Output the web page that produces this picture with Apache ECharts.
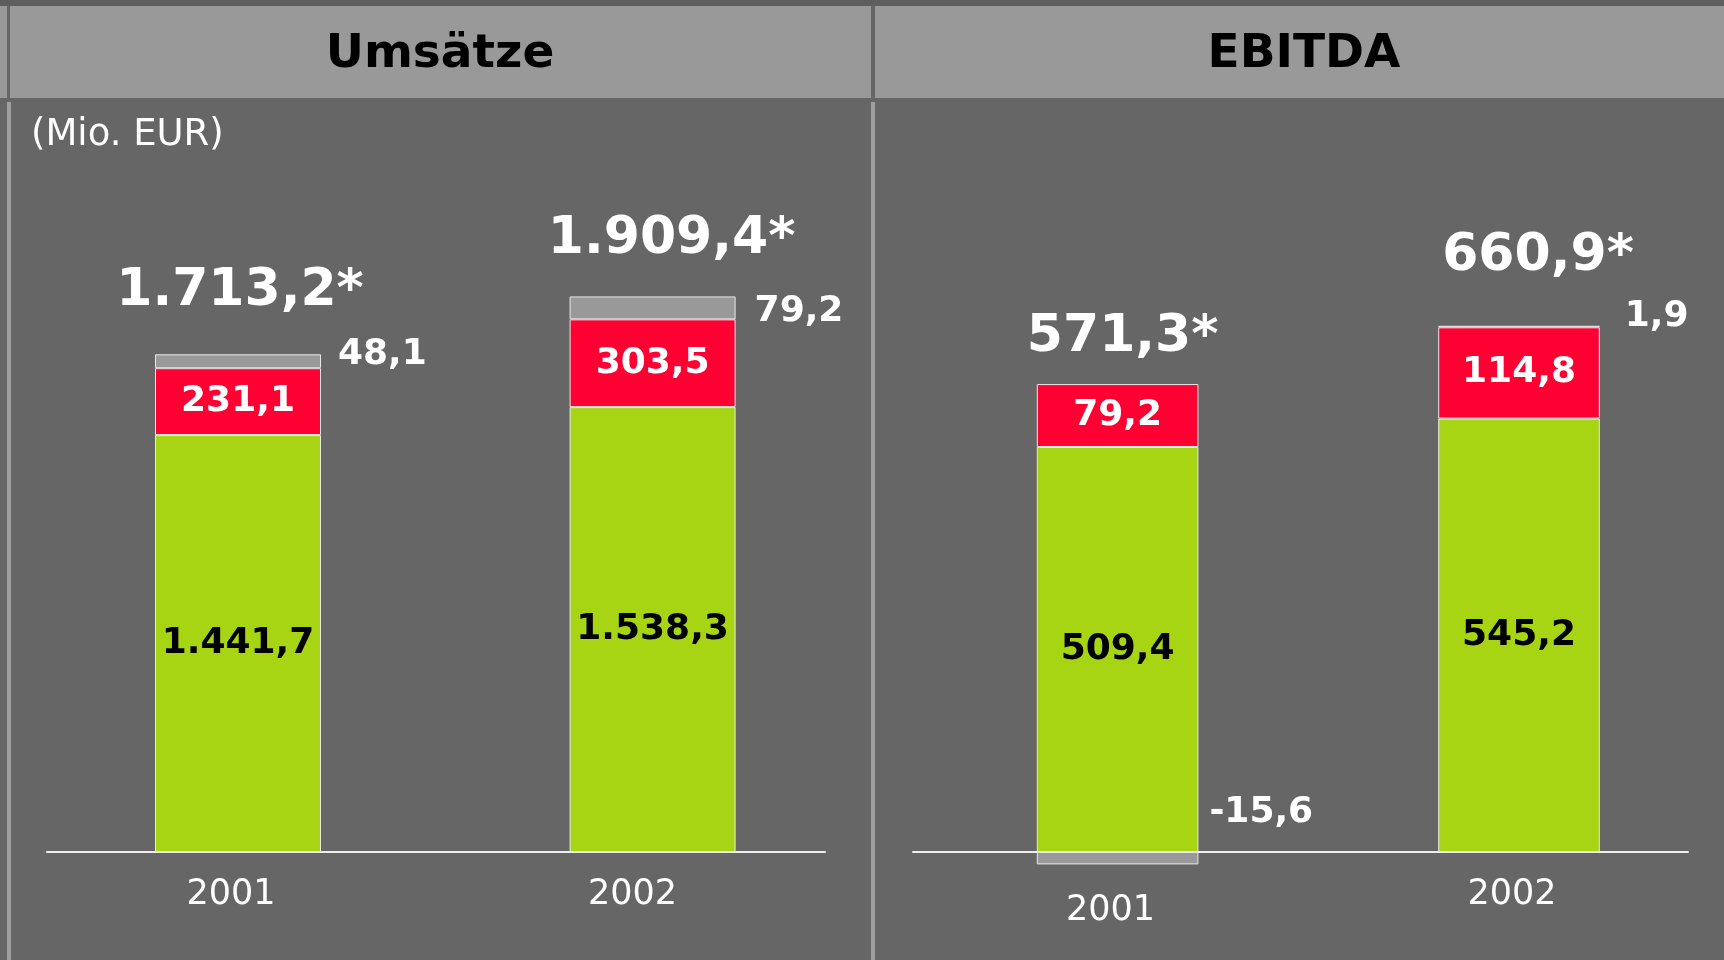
<!DOCTYPE html>
<html>
<head>
<meta charset="utf-8">
<title>Umsätze / EBITDA</title>
<script src="https://cdn.jsdelivr.net/npm/echarts/dist/echarts.min.js"></script>
<style>
  html, body { margin: 0; padding: 0; background: #666666; }
  #main { width: 1724px; height: 960px; }
</style>
</head>
<body>
<div id="main"></div>
<script>
// Kategorien
var years = ['2001', '2002'];

// Umsätze (Mio. EUR)
var umsatzGruen = [1441.7, 1538.3];
var umsatzRot = [231.1, 303.5];
var umsatzGrau = [48.1, 79.2];
var umsatzGesamt = [1713.2, 1909.4];

// EBITDA (Mio. EUR)
var ebitdaGruen = [509.4, 545.2];
var ebitdaRot = [79.2, 114.8];
var ebitdaGrau = [-15.6, 1.9];
var ebitdaGesamt = [571.3, 660.9];

var GRUEN = '#a7d513';
var ROT = '#ff0033';
var GRAU = '#999999';
var FONT = 'DejaVu Sans';

// deutsche Zahlendarstellung 1.441,7
function fmt(v) {
    var s = Math.abs(v).toFixed(1).split('.');
    var i = s[0].replace(/\B(?=(\d{3})+(?!\d))/g, '.');
    return (v < 0 ? '-' : '') + i + ',' + s[1];
}

// Oberkante des positiven Stapels, dort sitzt die Summe
function stapelOben(a, b, c) {
    return a.map(function (v, i) {
        return v + b[i] + Math.max(c[i], 0);
    });
}

var myChart = echarts.init(document.getElementById('main'));

function balken(name, data, color, xi, stack, barWidth, label) {
    return {
        name: name,
        type: 'bar',
        xAxisIndex: xi,
        yAxisIndex: xi,
        stack: stack,
        barWidth: barWidth,
        data: data,
        itemStyle: { color: color, borderColor: '#e8e8e8', borderWidth: 1 },
        label: label,
        emphasis: { disabled: true }
    };
}

function innenLabel(color) {
    return {
        show: true,
        position: 'inside',
        color: color,
        fontFamily: FONT,
        fontWeight: 'bold',
        fontSize: 36,
        formatter: function (p) { return fmt(p.value); }
    };
}

function grauDaten(values, offsets) {
    return values.map(function (v, i) {
        return { value: v, label: { offset: offsets[i] } };
    });
}

function summe(name, tops, totals, xi, offsets) {
    return {
        name: name,
        type: 'scatter',
        xAxisIndex: xi,
        yAxisIndex: xi,
        symbolSize: 1,
        itemStyle: { color: 'rgba(0,0,0,0)', opacity: 1 },
        data: tops.map(function (v, i) {
            return { value: v, label: { offset: offsets[i] } };
        }),
        label: {
            show: true,
            position: 'inside',
            color: '#ffffff',
            opacity: 1,
            fontFamily: FONT,
            fontWeight: 'bold',
            fontSize: 52,
            formatter: function (p) { return fmt(totals[p.dataIndex]) + '*'; }
        },
        emphasis: { disabled: true },
        z: 5
    };
}

var grauLabel = {
    show: true,
    position: 'right',
    distance: 0,
    color: '#ffffff',
    fontFamily: FONT,
    fontWeight: 'bold',
    fontSize: 36,
    formatter: function (p) { return fmt(p.value); }
};

function kategorieAchse(gi, margin, rich) {
    return {
        type: 'category',
        gridIndex: gi,
        data: years,
        axisLine: { show: false },
        axisTick: { show: false },
        axisLabel: {
            margin: margin,
            color: '#ffffff',
            fontFamily: FONT,
            fontSize: 35,
            lineHeight: 36,
            formatter: function (v, i) { return '{k' + i + '|' + v + '}'; },
            rich: rich
        }
    };
}

function linienAchse(gi) {
    return {
        type: 'value',
        gridIndex: gi,
        axisLine: { show: true, onZero: false, lineStyle: { color: '#eeeeee', width: 2 } },
        axisTick: { show: false },
        axisLabel: { show: false },
        splitLine: { show: false }
    };
}

var option = {
    backgroundColor: '#666666',
    animation: false,
    graphic: [
        // Kopfzeile
        { type: 'rect', shape: { x: 0, y: 0, width: 1724, height: 6 }, style: { fill: '#5e5e5e' }, silent: true },
        { type: 'rect', shape: { x: 0, y: 6, width: 7, height: 92 }, style: { fill: '#999999' }, silent: true },
        { type: 'rect', shape: { x: 10, y: 6, width: 861, height: 92 }, style: { fill: '#999999' }, silent: true },
        { type: 'rect', shape: { x: 875, y: 6, width: 849, height: 92 }, style: { fill: '#999999' }, silent: true },
        // senkrechte Linien
        { type: 'rect', shape: { x: 7, y: 102, width: 4, height: 858 }, style: { fill: '#a0a0a0' }, silent: true },
        { type: 'rect', shape: { x: 871, y: 102, width: 4, height: 858 }, style: { fill: '#a0a0a0' }, silent: true }
    ],
    title: [
        {
            text: 'Umsätze', left: 440, top: 31, textAlign: 'center', padding: 0,
            textStyle: { color: '#000000', fontFamily: FONT, fontWeight: 'bold', fontSize: 47, lineHeight: 48 }
        },
        {
            text: 'EBITDA', left: 1304, top: 31, textAlign: 'center', padding: 0,
            textStyle: { color: '#000000', fontFamily: FONT, fontWeight: 'bold', fontSize: 47, lineHeight: 48 }
        },
        {
            text: '(Mio. EUR)', left: 31, top: 116, padding: 0,
            textStyle: { color: '#ffffff', fontFamily: FONT, fontWeight: 'normal', fontSize: 37, lineHeight: 38 }
        }
    ],
    grid: [
        { left: 30.7, right: 864.1, top: 129, bottom: 108 },
        { left: 916.9, right: 4.3, top: 136.5, bottom: 68.25 },
        { left: 47, width: 778, top: 842, height: 10 },
        { left: 913, width: 775, top: 842, height: 10 }
    ],
    xAxis: [
        kategorieAchse(0, 25, {
            k0: { padding: [0, 14, 0, 0] },
            k1: { padding: [0, 40, 0, 0] }
        }),
        kategorieAchse(1, -15, {
            k0: { padding: [32, 14, 0, 0] },
            k1: { padding: [0, 14, 0, 0] }
        }),
        linienAchse(2),
        linienAchse(3)
    ],
    yAxis: [
        { type: 'value', gridIndex: 0, min: 0, max: 2500, show: false },
        { type: 'value', gridIndex: 1, min: -50, max: 900, show: false },
        { type: 'value', gridIndex: 2, show: false },
        { type: 'value', gridIndex: 3, show: false }
    ],
    series: [
        balken('Umsatz grün', umsatzGruen, GRUEN, 0, 'u', 166, innenLabel('#000000')),
        balken('Umsatz rot', umsatzRot, ROT, 0, 'u', 166, innenLabel('#ffffff')),
        balken('Umsatz grau', grauDaten(umsatzGrau, [[17, -7], [19, 4]]), GRAU, 0, 'u', 166, grauLabel),
        summe('Umsatz gesamt', stapelOben(umsatzGruen, umsatzRot, umsatzGrau), umsatzGesamt, 0, [[2, -63], [19, -57]]),

        balken('EBITDA grün', ebitdaGruen, GRUEN, 1, 'e', 161.6, innenLabel('#000000')),
        balken('EBITDA rot', ebitdaRot, ROT, 1, 'e', 161.6, innenLabel('#ffffff')),
        balken('EBITDA grau', grauDaten(ebitdaGrau, [[11, -46], [25, -10]]), GRAU, 1, 'e', 161.6, grauLabel),
        summe('EBITDA gesamt', stapelOben(ebitdaGruen, ebitdaRot, ebitdaGrau), ebitdaGesamt, 1, [[5, -47], [19, -69]])
    ]
};

myChart.setOption(option);
</script>
</body>
</html>
